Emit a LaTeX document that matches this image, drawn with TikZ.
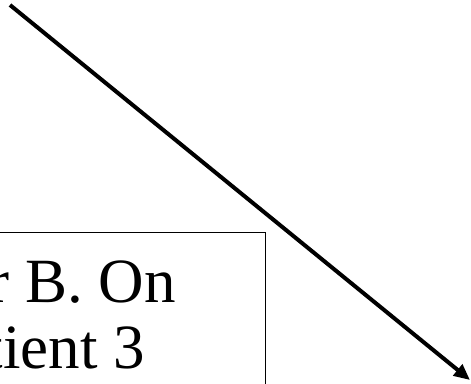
\documentclass[tikz,border=0pt]{standalone}
\usepackage{fontspec}
\setmainfont{Liberation Serif}
\usetikzlibrary{arrows.meta}
\begin{document}
\begin{tikzpicture}[x=1pt,y=-1pt,>={Triangle[length=16pt,width=14pt]}]
\useasboundingbox (0,0) rectangle (471,383);
\clip (0,0) rectangle (471,383);
\draw[line width=1pt] (-20,232) rectangle (265,420);
\node[anchor=base east,inner sep=0pt,font=\fontsize{63}{69}\selectfont] (lineone) at (176,302) {r B. On};
\node[anchor=base east,inner sep=0pt,font=\fontsize{63}{69}\selectfont] (linetwo) at (145,368) {tient 3};
\coordinate (start) at (10,5);
\coordinate (tip) at (470,380);
\draw[->,line width=4pt] (start) -- (tip);
\end{tikzpicture}
\end{document}
